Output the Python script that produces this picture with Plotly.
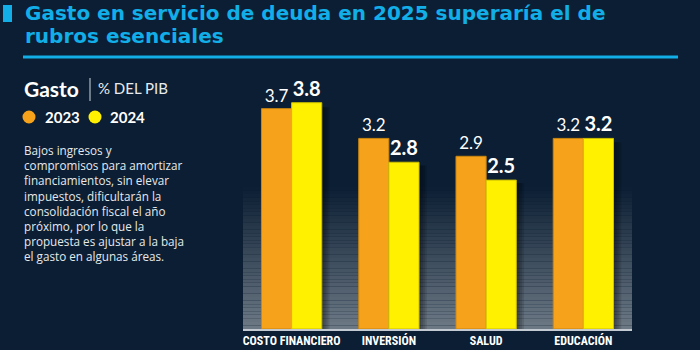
import plotly.graph_objects as go

categories = ["COSTO FINANCIERO", "INVERSIÓN", "SALUD", "EDUCACIÓN"]
v2023 = [3.7, 3.2, 2.9, 3.2]
v2024 = [3.8, 2.8, 2.5, 3.2]
series_names = ["2023", "2024"]

title_lines = ["Gasto en servicio de deuda en 2025 superaría el de", "rubros esenciales"]
subtitle_bold = "Gasto"
subtitle_unit = "% DEL PIB"
paragraph = [
    "Bajos ingresos y",
    "compromisos para amortizar",
    "financiamientos, sin elevar",
    "impuestos, dificultarán la",
    "consolidación fiscal el año",
    "próximo, por lo que la",
    "propuesta es ajustar a la baja",
    "el gasto en algunas áreas.",
]

BG = "#0b1e33"
CYAN = "#12aee8"
ORANGE = "#f7a21b"
YELLOW = "#fff100"
FONT = "Lato, 'Open Sans', sans-serif"
WIDE = "'Open Sans', Lato, sans-serif"
TITLEF = "'DejaVu Sans', 'Open Sans', sans-serif"
COND = "'Liberation Sans Narrow', 'Roboto Condensed', 'Arial Narrow', sans-serif"

W, H = 700, 350
L, R, T, B = 243, 632, 61, 329
YMAX = 4.5


def px(x):
    return (x - L) / (R - L)


def py(y):
    return (B - y) / (B - T)


fig = go.Figure()

fig.add_trace(go.Bar(
    x=categories, y=v2023, name=series_names[0],
    marker=dict(color=ORANGE, line=dict(color="#c9850f", width=1)),
    text=[f"{v:.1f}" for v in v2023], textposition="outside",
    textfont=dict(family=FONT, size=17, color="white"),
    cliponaxis=False,
))
fig.add_trace(go.Bar(
    x=categories, y=v2024, name=series_names[1],
    marker=dict(color=YELLOW, line=dict(color="#cfc000", width=1)),
    text=[f"<b>{v:.1f}</b>" for v in v2024], textposition="outside",
    textfont=dict(family=FONT, size=20, color="white"),
    cliponaxis=False,
))

shapes = []
# gradient panel behind bars
N = 40
g_top = (B - 187) / (B - T) * YMAX
c0 = (0x0b, 0x1e, 0x33)
c1 = (0x6e, 0x7a, 0x86)
for i in range(N):
    f = (i + 0.5) / N
    col = tuple(int(c1[k] + (c0[k] - c1[k]) * f) for k in range(3))
    shapes.append(dict(type="rect", xref="x domain", yref="y",
                       x0=0, x1=1, y0=g_top * i / N, y1=g_top * (i + 1) / N,
                       fillcolor="rgb(%d,%d,%d)" % col, line=dict(width=0), layer="below"))
# bar shadows to the right of 2024 bars
for i, v in enumerate(v2024):
    for j in range(4):
        shapes.append(dict(type="rect", xref="x", yref="y",
                           x0=i + 0.31, x1=i + 0.31 + 0.02 * (j + 1), y0=0, y1=v * 0.98,
                           fillcolor="rgba(0,0,0,0.12)", line=dict(width=0), layer="below"))
# header decorations
shapes.append(dict(type="rect", xref="paper", yref="paper", x0=px(3), x1=px(12), y0=py(22), y1=py(5),
                   fillcolor=CYAN, line=dict(width=0)))
shapes.append(dict(type="line", xref="paper", yref="paper", x0=px(23), x1=px(678), y0=py(57), y1=py(57),
                   line=dict(color=CYAN, width=3)))
# subtitle separator
shapes.append(dict(type="line", xref="paper", yref="paper", x0=px(90), x1=px(90), y0=py(101), y1=py(78),
                   line=dict(color="#d0d6dc", width=1)))
# legend dots
for cx, col in [(29, ORANGE), (95, YELLOW)]:
    shapes.append(dict(type="circle", xref="paper", yref="paper", xsizemode="pixel", ysizemode="pixel",
                       xanchor=px(cx), yanchor=py(117), x0=-6.5, x1=6.5, y0=-6.5, y1=6.5,
                       fillcolor=col, line=dict(width=0)))

ann = []
ann.append(dict(text="<b>" + title_lines[0] + "</b>", x=px(23), y=py(13), xanchor="left", yanchor="middle",
                font=dict(family=TITLEF, size=20, color=CYAN)))
ann.append(dict(text="<b>" + title_lines[1] + "</b>", x=px(23), y=py(36), xanchor="left", yanchor="middle",
                font=dict(family=TITLEF, size=20, color=CYAN)))
ann.append(dict(text="<b>" + subtitle_bold + "</b>", x=px(22), y=py(88), xanchor="left", yanchor="middle",
                font=dict(family=FONT, size=21, color="white")))
ann.append(dict(text=subtitle_unit, x=px(96), y=py(88), xanchor="left", yanchor="middle",
                font=dict(family=FONT, size=15, color="#e8ecef")))
ann.append(dict(text="<b>" + series_names[0] + "</b>", x=px(43), y=py(117), xanchor="left", yanchor="middle",
                font=dict(family=FONT, size=15, color="white")))
ann.append(dict(text="<b>" + series_names[1] + "</b>", x=px(108), y=py(117), xanchor="left", yanchor="middle",
                font=dict(family=FONT, size=15, color="white")))
ann.append(dict(text="<br>".join(paragraph), x=px(22), y=py(140), xanchor="left", yanchor="top", align="left",
                font=dict(family=WIDE, size=11.7, color="#e6e9ec")))
for a in ann:
    a.update(xref="paper", yref="paper", showarrow=False)

fig.update_layout(
    width=W, height=H,
    margin=dict(l=L, r=W - R, t=T, b=H - B, pad=0, autoexpand=False),
    paper_bgcolor=BG, plot_bgcolor=BG,
    barmode="group", bargap=0.38, bargroupgap=0,
    showlegend=False,
    uniformtext=dict(mode=False),
    shapes=shapes, annotations=ann,
    xaxis=dict(showline=True, linecolor="#c3cad1", linewidth=2, showgrid=False, zeroline=False,
               ticks="", automargin=False, ticklabelstandoff=0,
               tickfont=dict(family=COND, size=12, color="white", weight="bold"),
               fixedrange=True),
    yaxis=dict(range=[0, YMAX], visible=False, showgrid=False, zeroline=False, fixedrange=True,
               automargin=False),
)
fig.update_traces(constraintext="none")

fig.write_html("out.html", config={"displayModeBar": False})
